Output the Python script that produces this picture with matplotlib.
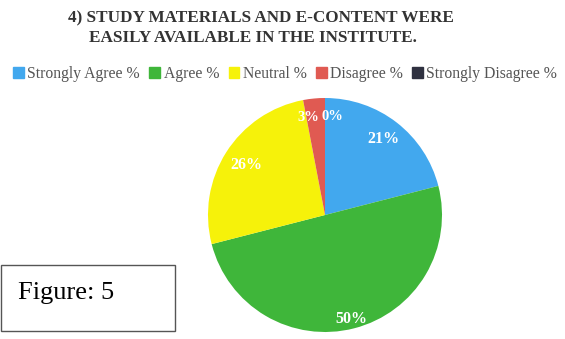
import numpy as np
import matplotlib.pyplot as plt
from matplotlib.patches import Rectangle

# data
categories = ["Strongly Agree %", "Agree %", "Neutral %", "Disagree %", "Strongly Disagree %"]
values = [21, 50, 26, 3, 0]
labels = ["21%", "50%", "26%", "3%", "0%"]

colors = ["#42a8ee", "#3fb63a", "#f6f20a", "#e05a52", "#2f3140"]
label_dist = [0.82, 0.92, 0.80, 0.84, 0.84]
label_dx = [0, 0, 0, -0.06, 0.06]

plt.rcParams["font.family"] = ["Liberation Serif", "DejaVu Serif"]

fig = plt.figure(figsize=(5.65, 3.39), dpi=100)
W, H = 565, 339

# pie axes: centre ~ (325, 215) px, radius ~117 px
cx, cy, r = 325, 215, 117
ax = fig.add_axes([(cx - r) / W, (H - cy - r) / H, 2 * r / W, 2 * r / H])
wedges, _ = ax.pie(values, colors=colors, startangle=90, counterclock=False,
                   wedgeprops=dict(linewidth=0))
ax.set_xlim(-1, 1)
ax.set_ylim(-1, 1)
ax.set_aspect("equal")

for i, w in enumerate(wedges):
    ang = np.deg2rad((w.theta1 + w.theta2) / 2)
    d = label_dist[i]
    x, y = d * np.cos(ang) + label_dx[i], d * np.sin(ang)
    ax.text(x, y, labels[i], color="white", fontsize=11.5 if i < 3 else 10.5,
            fontweight="bold", ha="center", va="center")

fig.text(0.462, 1 - 18 / H, "4) STUDY MATERIALS AND E-CONTENT WERE",
         ha="center", va="center", fontsize=12.3, fontweight="bold", color="#333333")
fig.text(0.448, 1 - 38 / H, "EASILY AVAILABLE IN THE INSTITUTE.",
         ha="center", va="center", fontsize=12.3, fontweight="bold", color="#333333")

handles = [Rectangle((0, 0), 1, 1, color=c) for c in colors]
fig.legend(handles, categories, loc="center", bbox_to_anchor=(0.505, 1 - 74 / H),
           ncol=5, frameon=False, fontsize=11.3, handlelength=0.7, handleheight=0.7,
           handletextpad=0.2, columnspacing=0.6, labelcolor="#555555",
           borderaxespad=0, borderpad=0)

# "Figure: 5" box
fig.patches.append(Rectangle((1 / W, 1 - 331 / H), 174 / W, 66 / H,
                             transform=fig.transFigure, fill=False,
                             edgecolor="#555555", linewidth=1))
fig.text(18 / W, 1 - 293 / H, "Figure: 5", ha="left", va="center",
         fontsize=19, color="black")

fig.savefig("out.png", dpi=100)
